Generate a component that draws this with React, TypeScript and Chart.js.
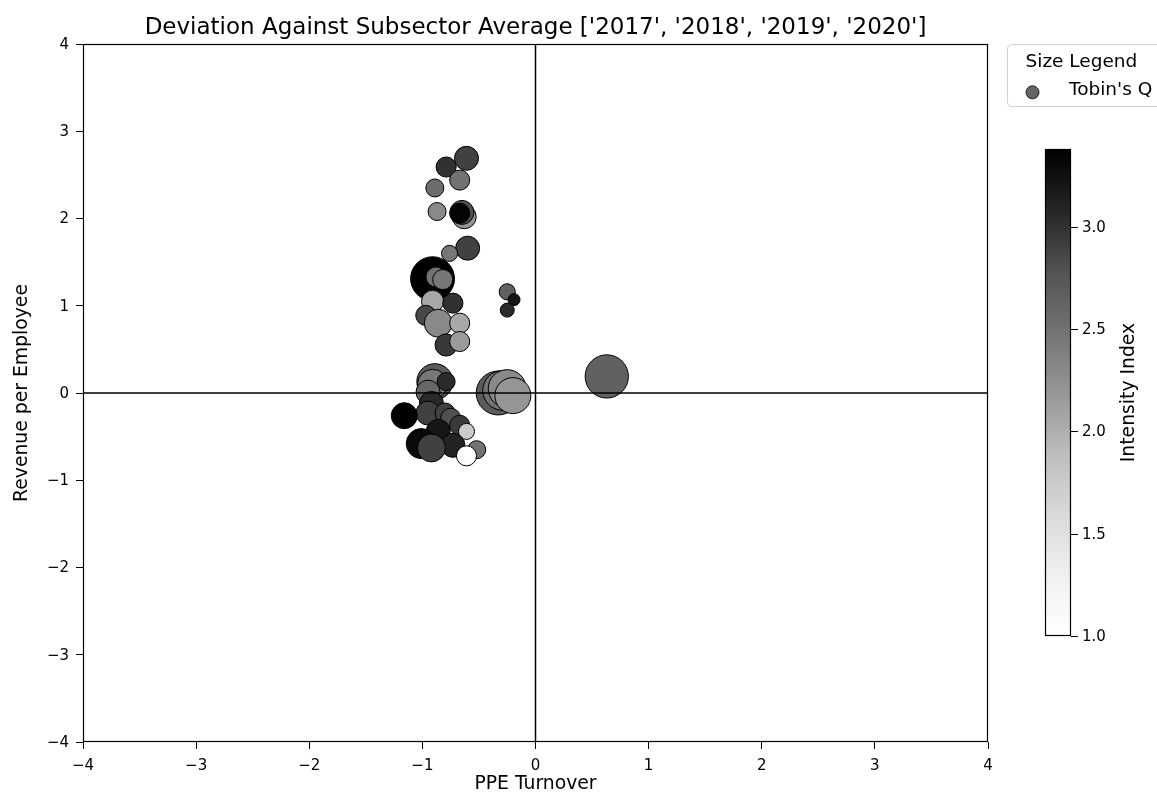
import React, { useEffect, useRef } from "react";
import { Chart, registerables } from "chart.js";

Chart.register(...registerables);

const chartTitle = "Deviation Against Subsector Average ['2017', '2018', '2019', '2020']";
const xLabel = "PPE Turnover";
const yLabel = "Revenue per Employee";
const colorbarLabel = "Intensity Index";
const legendTitle = "Size Legend";
const legendItem = "Tobin's Q";

const axisTicks = [-4, -3, -2, -1, 0, 1, 2, 3, 4];
const colorbarTicks = [1.0, 1.5, 2.0, 2.5, 3.0];
const colorMin = 1.0;
const colorMax = 3.38;

// data (drawing order = array order)
const ppeTurnover = [
  -0.61, -0.79, -0.67, -0.89, -0.87, -0.63, -0.65, -0.67,
  -0.60, -0.76, -0.91, -0.88, -0.82, -0.91, -0.73, -0.97, -0.86, -0.67, -0.79, -0.67,
  -0.25, -0.19, -0.25,
  -0.33, -0.29, -0.25, -0.20,
  0.63,
  -0.89, -0.91, -0.79, -0.95, -0.92, -0.95, -1.16, -0.80, -0.75, -0.67, -0.61, -0.86, -0.73, -1.01, -0.92, -0.52, -0.61,
];
const revenuePerEmployee = [
  2.69, 2.59, 2.44, 2.35, 2.08, 2.02, 2.07, 2.06,
  1.66, 1.60, 1.31, 1.33, 1.30, 1.05, 1.03, 0.89, 0.80, 0.80, 0.55, 0.59,
  1.16, 1.07, 0.95,
  0.0, 0.03, 0.05, -0.03,
  0.19,
  0.13, 0.10, 0.13, 0.01, -0.12, -0.23, -0.26, -0.23, -0.29, -0.37, -0.44, -0.44, -0.60, -0.58, -0.63, -0.65, -0.72,
];
const tobinsQ = [
  4.0, 2.8, 2.8, 2.25, 2.25, 4.0, 4.0, 2.8,
  4.0, 1.8, 13.4, 2.8, 2.8, 3.4, 2.8, 2.8, 5.4, 2.8, 3.4, 2.8,
  1.8, 1.0, 1.36,
  13.4, 11.0, 10.0, 9.0,
  13.0,
  9.0, 6.25, 2.25, 4.0, 4.0, 4.0, 4.7, 2.8, 2.8, 2.8, 1.8, 4.0, 4.0, 6.25, 5.4, 2.25, 2.8,
];
const intensityIndex = [
  2.9, 3.0, 2.5, 2.55, 2.3, 2.2, 2.8, 3.35,
  2.9, 2.45, 3.38, 2.5, 2.45, 2.05, 3.0, 2.85, 2.3, 2.05, 2.95, 2.15,
  2.65, 3.2, 3.05,
  2.7, 2.5, 2.3, 2.2,
  2.65,
  2.7, 2.45, 3.05, 2.6, 3.05, 2.9, 3.38, 2.9, 2.8, 2.95, 1.75, 3.2, 3.1, 3.3, 2.9, 2.5, 1.0,
];

// matplotlib "Greys" colormap anchors
const greysAnchors = [255, 240, 217, 189, 150, 115, 82, 37, 0];

function greys(t: number): string {
  const c = Math.max(0, Math.min(1, t)) * (greysAnchors.length - 1);
  const i = Math.min(greysAnchors.length - 2, Math.floor(c));
  const f = c - i;
  const v = Math.round(greysAnchors[i] + (greysAnchors[i + 1] - greysAnchors[i]) * f);
  return `rgb(${v},${v},${v})`;
}
function colorFor(v: number): string {
  return greys((v - colorMin) / (colorMax - colorMin));
}
const sizeScale = 6;
function radiusFor(q: number): number {
  return sizeScale * Math.sqrt(q);
}
const fmt = (v: number) => (v < 0 ? "\u2212" + Math.abs(v) : String(v));

const FONT = "'DejaVu Sans', sans-serif";
const TICK_PX = 15;
const LABEL_PX = 18.8;
const TITLE_PX = 23;

const decorPlugin = {
  id: "decor",
  afterDatasetsDraw(chart: any) {
    const { ctx, chartArea, scales } = chart;
    const { left, right, top, bottom } = chartArea;
    ctx.save();
    // zero lines
    ctx.strokeStyle = "#000";
    ctx.lineWidth = 1.5;
    const x0 = scales.x.getPixelForValue(0);
    const y0 = scales.y.getPixelForValue(0);
    ctx.beginPath();
    ctx.moveTo(x0, top);
    ctx.lineTo(x0, bottom);
    ctx.moveTo(left, y0);
    ctx.lineTo(right, y0);
    ctx.stroke();
    // frame
    ctx.lineWidth = 1.2;
    ctx.strokeRect(left + 0.5, top + 0.5, right - left - 1, bottom - top - 1);
    ctx.restore();
  },
  afterDraw(chart: any) {
    const { ctx, chartArea } = chart;
    const { left, right, top, bottom } = chartArea;
    ctx.save();
    ctx.fillStyle = "#000";
    // title
    ctx.font = `${TITLE_PX}px ${FONT}`;
    ctx.textAlign = "center";
    ctx.textBaseline = "alphabetic";
    ctx.fillText(chartTitle, (left + right) / 2, 33.5);
    // axis labels
    ctx.font = `${LABEL_PX}px ${FONT}`;
    ctx.fillText(xLabel, (left + right) / 2, 788.5);
    ctx.save();
    ctx.translate(26.5, (top + bottom) / 2);
    ctx.rotate(-Math.PI / 2);
    ctx.fillText(yLabel, 0, 0);
    ctx.restore();

    // colorbar
    const cbL = 1045, cbR = 1071, cbT = 149, cbB = 636;
    const grad = ctx.createLinearGradient(0, cbB, 0, cbT);
    for (let k = 0; k <= 40; k++) {
      grad.addColorStop(k / 40, greys(k / 40));
    }
    ctx.fillStyle = grad;
    ctx.fillRect(cbL, cbT, cbR - cbL, cbB - cbT);
    ctx.strokeStyle = "#000";
    ctx.lineWidth = 1.2;
    ctx.strokeRect(cbL + 0.5, cbT + 0.5, cbR - cbL - 1, cbB - cbT - 1);
    ctx.fillStyle = "#000";
    ctx.font = `${TICK_PX}px ${FONT}`;
    ctx.textAlign = "left";
    ctx.textBaseline = "middle";
    ctx.lineWidth = 1;
    for (const t of colorbarTicks) {
      const y = cbB - ((t - colorMin) / (colorMax - colorMin)) * (cbB - cbT);
      ctx.beginPath();
      ctx.moveTo(cbR, Math.round(y) + 0.5);
      ctx.lineTo(cbR + 7, Math.round(y) + 0.5);
      ctx.stroke();
      ctx.fillText(t.toFixed(1), cbR + 11, y + 1);
    }
    ctx.save();
    ctx.translate(1134, (cbT + cbB) / 2);
    ctx.rotate(-Math.PI / 2);
    ctx.textAlign = "center";
    ctx.textBaseline = "alphabetic";
    ctx.font = `${LABEL_PX}px ${FONT}`;
    ctx.fillText(colorbarLabel, 0, 0);
    ctx.restore();

    // size legend
    const lx = 1007.5, ly = 44.5, lw = 160, lh = 62, rr = 4;
    ctx.fillStyle = "rgba(255,255,255,0.8)";
    ctx.strokeStyle = "#d0d0d0";
    ctx.lineWidth = 1;
    ctx.beginPath();
    ctx.moveTo(lx + rr, ly);
    ctx.lineTo(lx + lw - rr, ly);
    ctx.arcTo(lx + lw, ly, lx + lw, ly + rr, rr);
    ctx.lineTo(lx + lw, ly + lh - rr);
    ctx.arcTo(lx + lw, ly + lh, lx + lw - rr, ly + lh, rr);
    ctx.lineTo(lx + rr, ly + lh);
    ctx.arcTo(lx, ly + lh, lx, ly + lh - rr, rr);
    ctx.lineTo(lx, ly + rr);
    ctx.arcTo(lx, ly, lx + rr, ly, rr);
    ctx.closePath();
    ctx.fill();
    ctx.stroke();
    ctx.fillStyle = "#000";
    ctx.textAlign = "left";
    ctx.textBaseline = "alphabetic";
    ctx.font = `18.5px ${FONT}`;
    ctx.fillText(legendTitle, 1025.5, 67.3);
    ctx.beginPath();
    ctx.arc(1032.5, 92.3, 6.5, 0, Math.PI * 2);
    ctx.fillStyle = "#646464";
    ctx.fill();
    ctx.strokeStyle = "#222";
    ctx.lineWidth = 1;
    ctx.stroke();
    ctx.fillStyle = "#000";
    ctx.fillText(legendItem, 1069, 95);
    ctx.restore();
  },
};

export default function App() {
  const canvasRef = useRef<HTMLCanvasElement | null>(null);
  useEffect(() => {
    if (!canvasRef.current) return;
    const points = ppeTurnover.map((x, i) => ({
      x,
      y: revenuePerEmployee[i],
      r: radiusFor(tobinsQ[i]),
    }));
    const chart = new Chart(canvasRef.current, {
      type: "bubble",
      data: {
        datasets: [
          {
            label: legendItem,
            data: points,
            backgroundColor: intensityIndex.map(colorFor),
            borderColor: "#000",
            borderWidth: 1,
          },
        ],
      },
      options: {
        animation: false,
        responsive: false,
        maintainAspectRatio: false,
        events: [],
        layout: { padding: { left: 0, top: 44, right: 169, bottom: 0 } },
        plugins: {
          legend: { display: false },
          tooltip: { enabled: false },
          title: { display: false },
        },
        scales: {
          x: {
            type: "linear",
            min: -4,
            max: 4,
            afterFit: (s: any) => { s.height = 58; },
            afterBuildTicks: (s: any) => { s.ticks = axisTicks.map((v) => ({ value: v })); },
            grid: { drawOnChartArea: false, drawTicks: true, tickLength: 7, color: "#000", lineWidth: 1 },
            border: { display: false },
            ticks: {
              color: "#000",
              font: { family: FONT, size: TICK_PX },
              padding: 8,
              maxRotation: 0,
              autoSkip: false,
              callback: (v: any) => fmt(Number(v)),
            },
          },
          y: {
            type: "linear",
            min: -4,
            max: 4,
            afterFit: (s: any) => { s.width = 83; },
            afterBuildTicks: (s: any) => { s.ticks = axisTicks.map((v) => ({ value: v })); },
            grid: { drawOnChartArea: false, drawTicks: true, tickLength: 7, color: "#000", lineWidth: 1 },
            border: { display: false },
            ticks: {
              color: "#000",
              font: { family: FONT, size: TICK_PX },
              padding: 7,
              labelOffset: 1,
              autoSkip: false,
              callback: (v: any) => fmt(Number(v)),
            },
          },
        },
      },
      plugins: [decorPlugin],
    });
    return () => chart.destroy();
  }, []);
  return (
    <div style={{ position: "fixed", left: 0, top: 0, width: 1157, height: 800, background: "#fff" }}>
      <canvas ref={canvasRef} width={1157} height={800} style={{ width: 1157, height: 800, display: "block" }} />
    </div>
  );
}
